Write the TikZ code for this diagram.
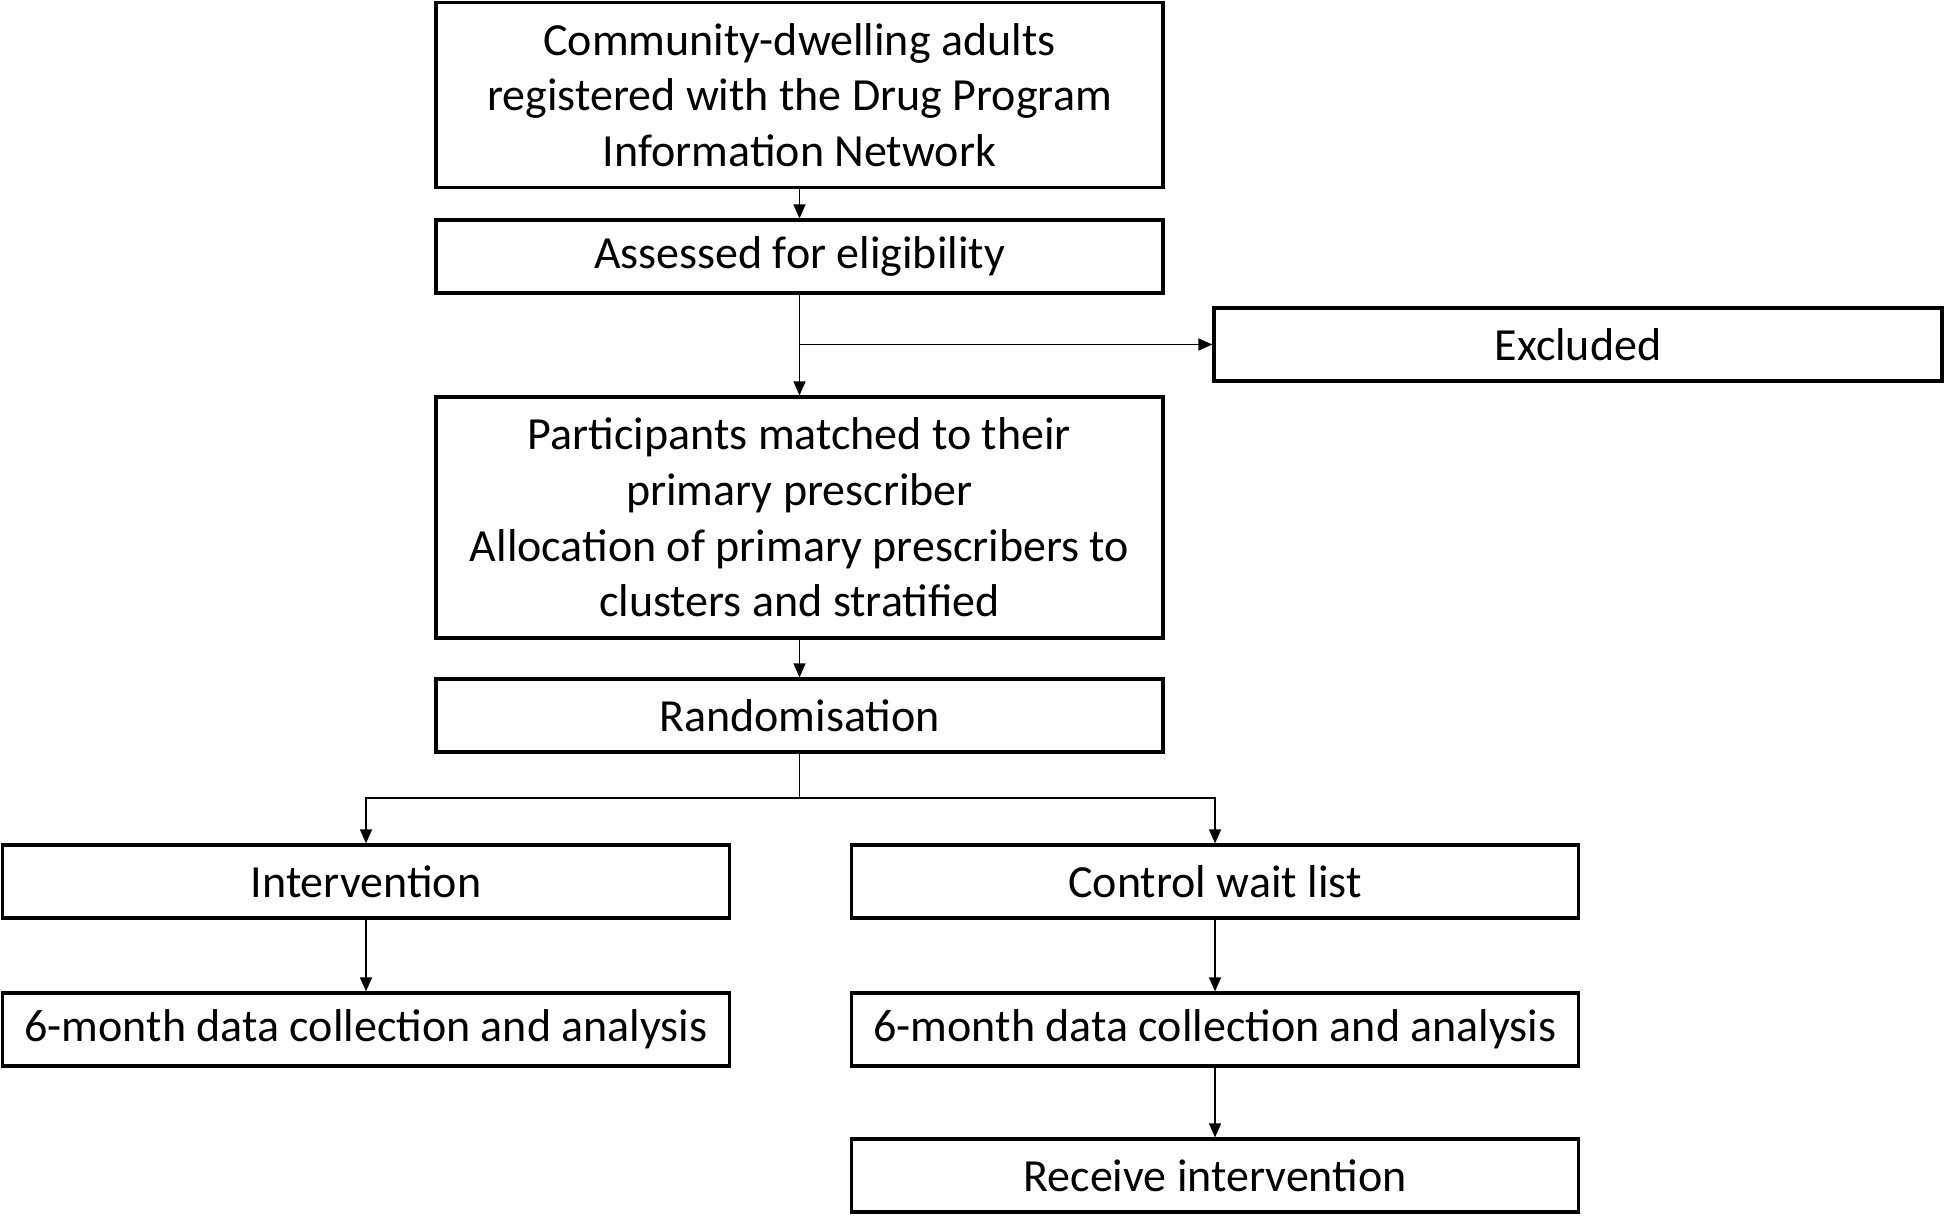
\documentclass[tikz,border=0pt]{standalone}
\usepackage{fontspec}
\setmainfont{Carlito}
\usetikzlibrary{arrows.meta}
\begin{document}
\begin{tikzpicture}[x=0.5pt,y=-0.5pt,
 box/.style={draw, line width=1.6pt, inner sep=0pt, align=center, minimum width=363.5pt, minimum height=36.5pt, font=\fontsize{23}{27.8}\selectfont},
 conn/.style={line width=0.7pt, -{Triangle[length=7pt,width=6pt]}},
 plain/.style={line width=0.7pt}]
\path[use as bounding box, fill=white] (0,0) rectangle (1946,1218);
\node[box, minimum height=92.5pt] (b1) at (799.5,95) {Community-dwelling adults\\registered with the Drug Program\\Information Network};
\node[box] (b2) at (799.5,256.5) {Assessed for eligibility};
\node[box, minimum width=364pt] (excl) at (1578,344.5) {Excluded};
\node[box, minimum height=120.5pt] (b3) at (799.5,517.5) {Participants matched to their\\primary prescriber\\Allocation of primary prescribers to\\clusters and stratified};
\node[box] (rand) at (799.5,715.5) {Randomisation};
\node[box] (int) at (366,881.5) {Intervention};
\node[box] (ctl) at (1215,881.5) {Control wait list};
\node[box] (dl) at (366,1029.5) {6-month data collection and analysis};
\node[box] (dr) at (1215,1029.5) {6-month data collection and analysis};
\node[box] (recv) at (1215,1175.5) {Receive intervention};
\coordinate (split) at (799.5,798);
\draw[conn] (b1) -- (b2);
\draw[conn] (b2) -- (b3);
\draw[conn] (b2.south |- excl.west) -- (excl.west);
\draw[conn] (b3) -- (rand);
\draw[plain] (rand) -- (split);
\draw[conn] (split) -| (int.north);
\draw[conn] (split) -| (ctl.north);
\draw[conn] (int) -- (dl);
\draw[conn] (ctl) -- (dr);
\draw[conn] (dr) -- (recv);
\end{tikzpicture}
\end{document}
